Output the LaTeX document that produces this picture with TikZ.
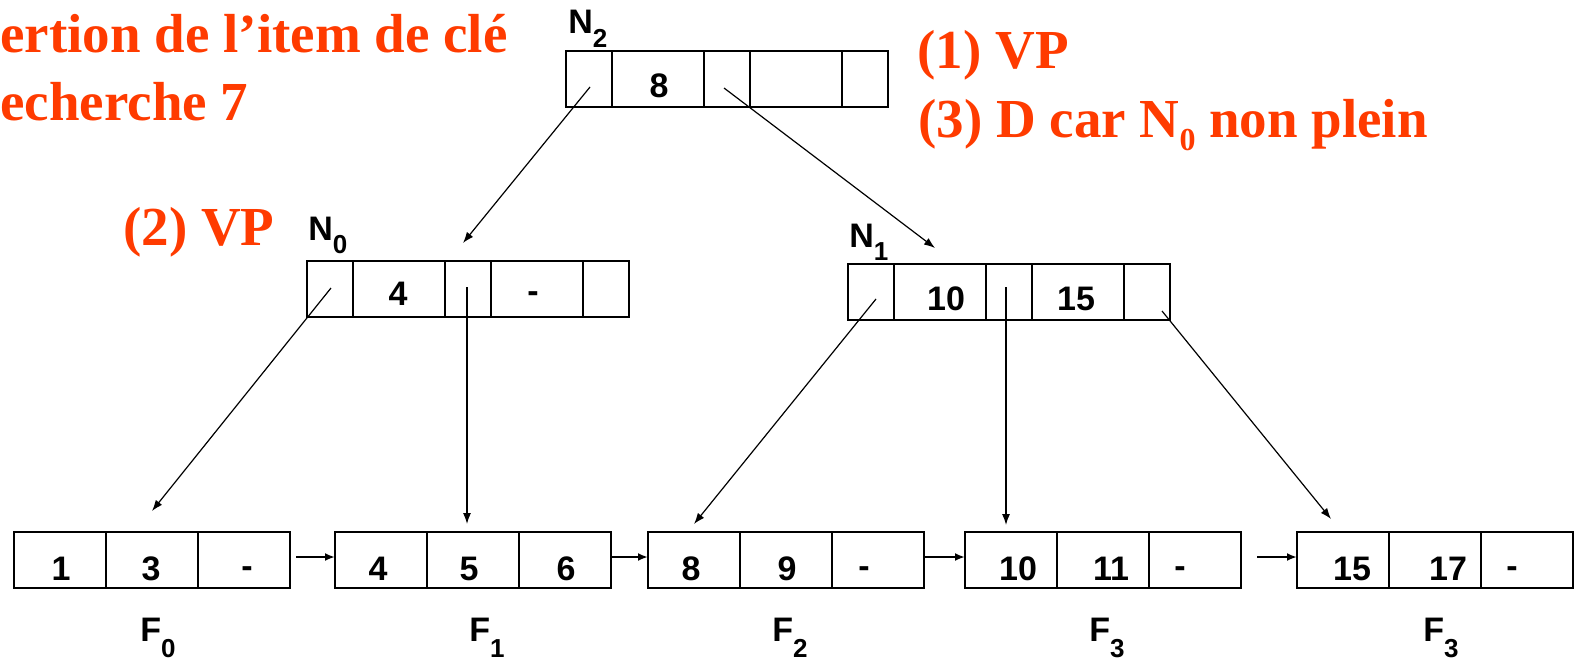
\documentclass[tikz,border=0pt]{standalone}
\usepackage{fontspec}
\setmainfont{Liberation Serif}
\setsansfont{Liberation Sans}
\usetikzlibrary{arrows.meta}
\definecolor{rouge}{RGB}{255,59,0}
\newcommand{\nsub}[3]{#1\raisebox{#3}{\fontsize{13}{13}\selectfont #2}}
\begin{document}
\begin{tikzpicture}[x=0.5pt,y=-0.5pt,
  cell/.style={draw=black,line width=1pt,minimum height=28pt,inner sep=0pt,outer sep=0pt},
  kc/.style={cell,minimum width=46pt},
  pc/.style={cell,minimum width=23pt},
  num/.style={font=\sffamily\bfseries\fontsize{17}{17}\selectfont,inner sep=0pt,anchor=base},
  lab/.style={font=\sffamily\bfseries\fontsize{17}{17}\selectfont,inner sep=0pt,anchor=base west},
  redtxt/.style={text=rouge,font=\bfseries\fontsize{27.5}{27.5}\selectfont,inner sep=0pt,anchor=base west},
  ptr/.style={line width=0.6pt,-{Latex[length=5.5pt,width=4pt]}},
  nxt/.style={line width=1pt,-{Latex[length=5pt,width=4pt]}}
]
\useasboundingbox (0,0) rectangle (1574,664);

% red annotations
\node[redtxt] (t1) at (0,53) {ertion de l’item de clé};
\node[redtxt] (t2) at (0,120) {echerche 7};
\node[redtxt] (t3) at (917,68) {(1) VP};
\node[redtxt] (t4) at (918,137) {(3) D car N\raisebox{-6.5pt}{\fontsize{16}{16}\selectfont 0} non plein};
\node[redtxt] (t5) at (123,245) {(2) VP};

% N2
\node[pc] (n2a) at (589,79) {};
\node[kc] (n2b) at (658,79) {};
\node[pc] (n2c) at (727,79) {};
\node[kc] (n2d) at (796,79) {};
\node[pc] (n2e) at (865,79) {};
\node[num] (n2k1) at (659,97) {8};
\node[lab] (n2l) at (568,33) {\nsub{N}{2}{-7pt}};

% N0
\node[pc] (n0a) at (330,289) {};
\node[kc] (n0b) at (399,289) {};
\node[pc] (n0c) at (468,289) {};
\node[kc] (n0d) at (537,289) {};
\node[pc] (n0e) at (606,289) {};
\node[num] (n0k1) at (398,305) {4};
\node[num] (n0k2) at (533,302) {-};
\node[lab] (n0l) at (308,240) {\nsub{N}{0}{-6.5pt}};

% N1
\node[pc] (n1a) at (871,291.5) {};
\node[kc] (n1b) at (940,291.5) {};
\node[pc] (n1c) at (1009,291.5) {};
\node[kc] (n1d) at (1078,291.5) {};
\node[pc] (n1e) at (1147,291.5) {};
\node[num] (n1k1) at (946,310) {10};
\node[num] (n1k2) at (1076,310) {15};
\node[lab] (n1l) at (849,247) {\nsub{N}{1}{-6.5pt}};

% leaves
\node[kc] (f0a) at (60,560) {};
\node[kc] (f0b) at (152,560) {};
\node[kc] (f0c) at (244,560) {};
\node[num] (f0k1) at (61,580) {1};
\node[num] (f0k2) at (151,580) {3};
\node[num] (f0k3) at (247,577) {-};
\node[lab] (f0l) at (140,641) {\nsub{F}{0}{-8pt}};

\node[kc] (f1a) at (381,560) {};
\node[kc] (f1b) at (473,560) {};
\node[kc] (f1c) at (565,560) {};
\node[num] (f1k1) at (378,580) {4};
\node[num] (f1k2) at (469,580) {5};
\node[num] (f1k3) at (566,580) {6};
\node[lab] (f1l) at (469,641) {\nsub{F}{1}{-8pt}};

\node[kc] (f2a) at (694,560) {};
\node[kc] (f2b) at (786,560) {};
\node[kc] (f2c) at (878,560) {};
\node[num] (f2k1) at (691,580) {8};
\node[num] (f2k2) at (787,580) {9};
\node[num] (f2k3) at (864,577) {-};
\node[lab] (f2l) at (772,641) {\nsub{F}{2}{-8pt}};

\node[kc] (f3a) at (1011,560) {};
\node[kc] (f3b) at (1103,560) {};
\node[kc] (f3c) at (1195,560) {};
\node[num] (f3k1) at (1018,580) {10};
\node[num] (f3k2) at (1111,580) {11};
\node[num] (f3k3) at (1180,577) {-};
\node[lab] (f3l) at (1089,641) {\nsub{F}{3}{-8pt}};

\node[kc] (f4a) at (1343,560) {};
\node[kc] (f4b) at (1435,560) {};
\node[kc] (f4c) at (1527,560) {};
\node[num] (f4k1) at (1352,580) {15};
\node[num] (f4k2) at (1448,580) {17};
\node[num] (f4k3) at (1512,577) {-};
\node[lab] (f4l) at (1423,641) {\nsub{F}{3}{-8pt}};

% pointer connectors
\coordinate (s20) at (590,87);   \coordinate (e20) at (463,243);
\coordinate (s22) at (724,88);   \coordinate (e22) at (935,248);
\coordinate (s00) at (331,288);  \coordinate (e00) at (152,511);
\coordinate (s02) at (467,287);  \coordinate (e02) at (467,524);
\coordinate (s10) at (876,299);  \coordinate (e10) at (694,524);
\coordinate (s12) at (1006,287); \coordinate (e12) at (1006,525);
\coordinate (s14) at (1162,311); \coordinate (e14) at (1331,519);
\draw[ptr] (s20) -- (e20);
\draw[ptr] (s22) -- (e22);
\draw[ptr] (s00) -- (e00);
\draw[ptr] (s02) -- (e02);
\draw[ptr] (s10) -- (e10);
\draw[ptr] (s12) -- (e12);
\draw[ptr] (s14) -- (e14);

% leaf chain
\draw[nxt] ([xshift=3pt,yshift=1.5pt]f0c.east) -- ([yshift=1.5pt]f1a.west);
\draw[nxt] ([yshift=1.5pt]f1c.east) -- ([yshift=1.5pt]f2a.west);
\draw[nxt] ([yshift=1.5pt]f2c.east) -- ([yshift=1.5pt]f3a.west);
\draw[nxt] ([xshift=8pt,yshift=1.5pt]f3c.east) -- ([yshift=1.5pt]f4a.west);
\end{tikzpicture}
\end{document}
